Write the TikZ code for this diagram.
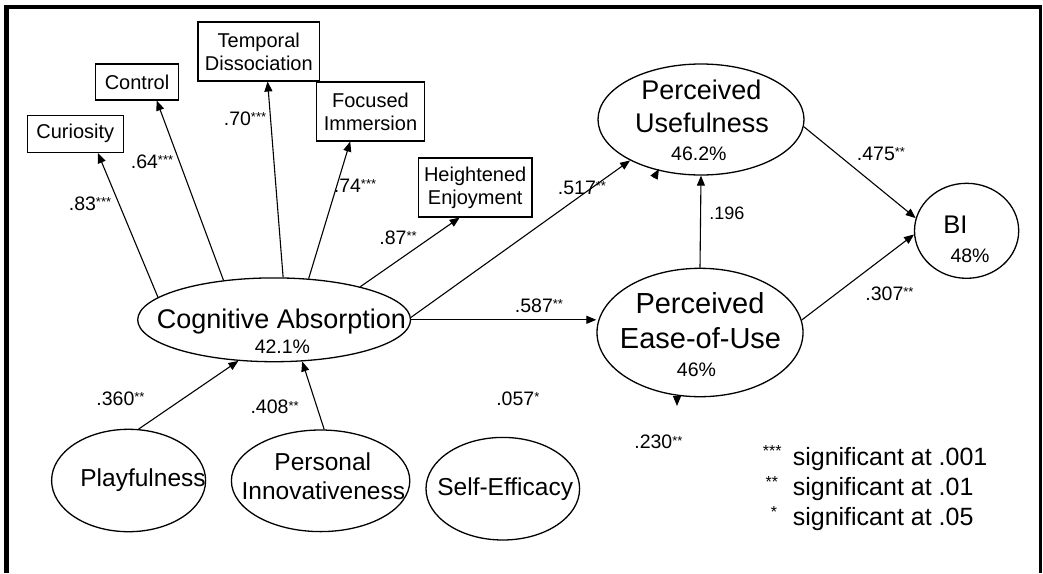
\documentclass[tikz,border=0pt]{standalone}
\usepackage{fontspec}
\setmainfont{Liberation Sans}
\usetikzlibrary{arrows.meta,shapes.geometric}
\newcommand\fs[1]{\fontsize{#1}{#1}\selectfont}
\newcommand\sg[1]{\raisebox{3.5pt}{\fs{13}#1}}
\begin{document}
\begin{tikzpicture}[x=1pt,y=-1pt,
  box/.style={draw, line width=1.1pt, rectangle, inner sep=0pt, align=center,
    font=\fontsize{20}{23}\selectfont},
  ell/.style={draw, ellipse, line width=1.3pt, inner sep=0pt},
  arr/.style={line width=1.1pt, -{Triangle[length=10pt,width=8pt]}},
  lab/.style={font=\fs{19.5}, inner sep=0pt, anchor=base},
  txt/.style={inner sep=0pt, anchor=base},
  star/.style={font=\fs{16}, inner sep=0pt, anchor=north east}]
\useasboundingbox (0,0) rectangle (1043,573);
\fill[white] (0,0) rectangle (1043,573);
% frame
\draw[line width=5pt] (6.5,5) -- (6.5,573);
\draw[line width=4pt] (4,7) -- (1042,7);
\draw[line width=3pt] (1040.5,5) -- (1040.5,573);

% boxes
\node[box, minimum width=96pt, minimum height=37.5pt] (Cur) at (75.3,133.8) {Curiosity};
\node[box, minimum width=82.7pt, minimum height=36pt] (Con) at (137,82) {Control};
\node[box, minimum width=121.6pt, minimum height=59pt] (Tem) at (258.8,51.5) {Temporal\\Dissociation};
\node[box, minimum width=107.4pt, minimum height=59pt] (Foc) at (370.5,111.5) {Focused\\Immersion};
\node[box, minimum width=113.6pt, minimum height=59pt] (Hei) at (475.2,187.5) {Heightened\\Enjoyment};

% ellipses
\node[ell, minimum width=272.8pt, minimum height=83.8pt] (CA) at (274.1,319.8) {};
\node[ell, minimum width=206pt, minimum height=111pt] (PU) at (701,119.5) {};
\node[ell, minimum width=206pt, minimum height=128.4pt] (PEOU) at (700,332.5) {};
\node[ell, minimum width=104.2pt, minimum height=95pt] (BI) at (966.6,230.8) {};
\node[ell, minimum width=154pt, minimum height=102.4pt] (PL) at (128.6,480.5) {};
\node[ell, minimum width=178.4pt, minimum height=101.6pt] (PI) at (320.6,480.8) {};
\node[ell, minimum width=153.6pt, minimum height=102.6pt] (SE) at (502.8,488.7) {};

% ellipse texts
\node[txt, font=\fs{27}] (tCA) at (281.5,328) {Cognitive Absorption};
\node[txt, font=\fs{19.5}] (tCAp) at (282.4,353.7) {42.1\%};
\node[txt, font=\fs{27}] (tPU1) at (701.4,99.7) {Perceived};
\node[txt, font=\fs{27}] (tPU2) at (702,132.7) {Usefulness};
\node[txt, font=\fs{19.5}] (tPUp) at (698.8,160.1) {46.2\%};
\node[txt, font=\fs{29}] (tPE1) at (700,313.7) {Perceived};
\node[txt, font=\fs{29}] (tPE2) at (700.5,348.7) {Ease-of-Use};
\node[txt, font=\fs{19.5}] (tPEp) at (696.5,376.4) {46\%};
\node[txt, font=\fs{25.5}] (tBI) at (955.3,233.5) {BI};
\node[txt, font=\fs{19.5}] (tBIp) at (970,262) {48\%};
\node[txt, font=\fs{24.5}] (tPL) at (143,486.8) {Playfulness};
\node[txt, font=\fs{24.5}] (tPI1) at (322.8,470.5) {Personal};
\node[txt, font=\fs{24.5}] (tPI2) at (323.3,499.5) {Innovativeness};
\node[txt, font=\fs{24.5}] (tSE) at (505.2,495.5) {Self-Efficacy};

% arrows from CA to indicators
\draw[arr] (CA.169.8) -- ([xshift=22.6pt]Cur.south);
\draw[arr] (CA.142.3) -- ([xshift=19.7pt]Con.south);
\draw[arr] (CA.78) -- ([xshift=8.8pt]Tem.south);
\draw[arr] (CA.50.6) -- ([xshift=-20.3pt]Foc.south);
\draw[arr] (CA.21.4) -- ([xshift=-15.5pt]Hei.south);
% structural paths
\draw[arr] (CA.1) -- (PU.210.3);
\draw[arr] (CA.east) -- (CA.east -| PEOU.west);
\draw[arr] (PEOU.north) -- (PU.south);
\draw[arr] (PU.-4) -- (BI.166.2);
\draw[arr] (PEOU.7) -- (BI.184.5);
\draw[arr] (PL.79.8) -- (CA.229.3);
\draw[arr] (PI.86.5) -- (CA.-56.5);
% stray arrowheads
\coordinate (h1) at (659,169);
\coordinate (h1b) at (653.75,178.1);
\coordinate (h2) at (677,406);
\coordinate (h2b) at (677,395.5);
\draw[arr] (h1b) -- (h1);
\draw[arr] (h2b) -- (h2);

% labels
\node[lab] (l83) at (90,210) {.83\sg{***}};
\node[lab] (l64) at (152,168) {.64\sg{***}};
\node[lab] (l70) at (245,125) {.70\sg{***}};
\node[lab] (l74) at (355,192) {.74\sg{***}};
\node[lab] (l87) at (398,244) {.87\sg{**}};
\node[lab] (l517) at (582,194) {.517\sg{**}};
\node[lab] (l475) at (881,160) {.475\sg{**}};
\node[lab, font=\fs{18}] (l196) at (726.8,219.5) {.196};
\node[lab] (l307) at (889.5,300) {.307\sg{**}};
\node[lab] (l587) at (539,312) {.587\sg{**}};
\node[lab] (l360) at (120.5,405.3) {.360\sg{**}};
\node[lab] (l408) at (274.6,413.7) {.408\sg{**}};
\node[lab] (l057) at (517.8,405.3) {.057\sg{*}};
\node[lab] (l230) at (658.4,448.7) {.230\sg{**}};

% legend
\node[star] (s3) at (781.7,445) {***};
\node[star] (s2) at (778.3,476) {**};
\node[star] (s1) at (777.3,506) {*};
\node[txt, font=\fs{25}, anchor=base west] (g1) at (792.6,465.2) {significant at .001};
\node[txt, font=\fs{25}, anchor=base west] (g2) at (792.6,495.2) {significant at .01};
\node[txt, font=\fs{25}, anchor=base west] (g3) at (792.6,525.2) {significant at .05};
\end{tikzpicture}
\end{document}
